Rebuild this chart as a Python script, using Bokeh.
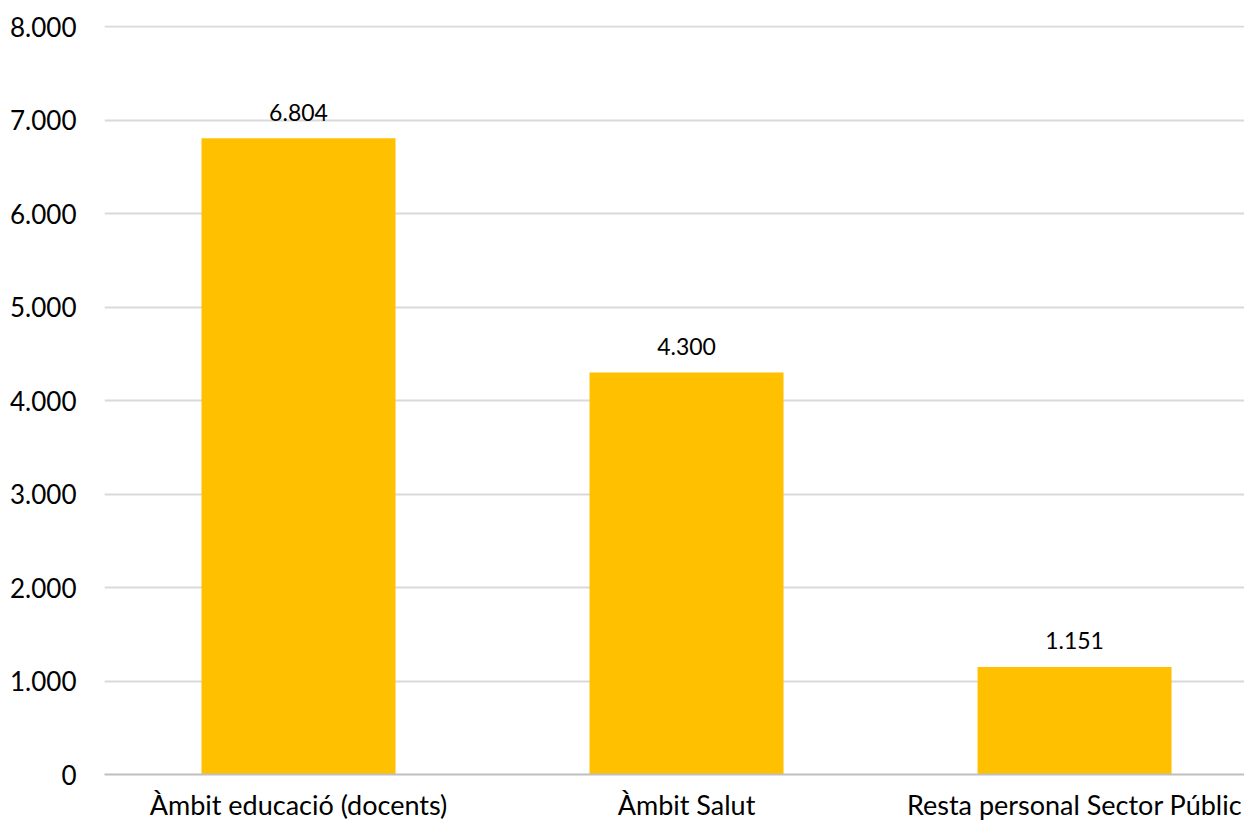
from bokeh.plotting import figure
from bokeh.models import Range1d, FixedTicker, ColumnDataSource
from bokeh.core.properties import value
from bokeh.embed import file_html
from bokeh.resources import INLINE

categories = ["Àmbit educació (docents)", "Àmbit Salut", "Resta personal Sector Públic"]
values = [6804, 4300, 1151]
y_ticks = [0, 1000, 2000, 3000, 4000, 5000, 6000, 7000, 8000]
y_tick_labels = ["0", "1.000", "2.000", "3.000", "4.000", "5.000", "6.000", "7.000", "8.000"]
value_labels = ["6.804", "4.300", "1.151"]

FONT = "Lato"
x_pos = [i + 0.5 for i in range(len(categories))]

src = ColumnDataSource(dict(x=x_pos, top=values, lab=value_labels))

p = figure(width=1244, height=824, output_backend="svg", toolbar_location=None,
           x_range=Range1d(0, 2.938), y_range=Range1d(0, 8010.7),
           min_border_left=104, min_border_right=0, min_border_top=25, min_border_bottom=50)
p.outline_line_color = None
p.background_fill_color = "white"
p.border_fill_color = "white"

p.vbar(x="x", top="top", width=0.5, bottom=0, source=src, fill_color="#FFC000", line_color=None)
p.text(x="x", y="top", text="lab", source=src, text_align="center", text_baseline="alphabetic",
       y_offset=-26, text_font=value(FONT), text_font_size="23px", text_color="#000000")

p.yaxis.ticker = FixedTicker(ticks=y_ticks)
p.yaxis.major_label_overrides = {t: l for t, l in zip(y_ticks, y_tick_labels)}
p.yaxis.axis_line_color = None
p.yaxis.major_tick_line_color = None
p.yaxis.minor_tick_line_color = None
p.yaxis.major_label_standoff = 22
p.yaxis.major_label_text_font = FONT
p.yaxis.major_label_text_font_size = "26px"
p.yaxis.major_label_text_color = "#000000"

p.xaxis.ticker = FixedTicker(ticks=x_pos)
p.xaxis.major_label_overrides = {x: c for x, c in zip(x_pos, categories)}
p.xaxis.axis_line_color = "#BFBFBF"
p.xaxis.axis_line_width = 2
p.xaxis.major_tick_line_color = None
p.xaxis.minor_tick_line_color = None
p.xaxis.major_label_standoff = 7
p.xaxis.major_label_text_font = FONT
p.xaxis.major_label_text_font_size = "27px"
p.xaxis.major_label_text_color = "#000000"

p.xgrid.grid_line_color = None
p.ygrid.ticker = FixedTicker(ticks=y_ticks[1:])
p.ygrid.grid_line_color = "#D9D9D9"
p.ygrid.grid_line_width = 2

open("out.html", "w").write(file_html(p, INLINE))
